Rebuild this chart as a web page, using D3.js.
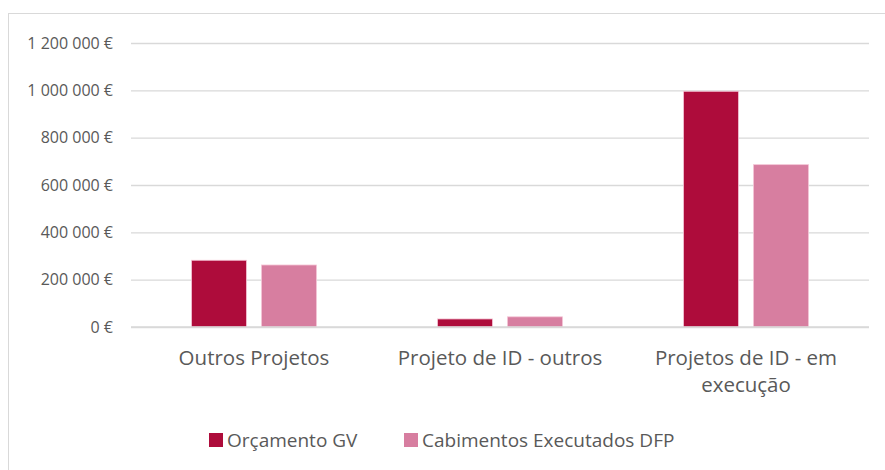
<!DOCTYPE html>
<html>
<head>
<meta charset="utf-8">
<script src="https://cdn.jsdelivr.net/npm/d3@7"></script>
<style>
  body { margin: 0; background: #fff; }
  svg { font-family: "Open Sans", "Noto Sans", sans-serif; }
</style>
</head>
<body>
<div class="chart"></div>
<script>
const categories = ['Outros Projetos', 'Projeto de ID - outros', 'Projetos de ID - em execução'];
const orcamento = [282000, 34000, 996000];
const cabimentos = [262000, 43000, 686000];
const seriesNames = ['Orçamento GV', 'Cabimentos Executados DFP'];
const colors = ['#ae0c3b', '#d77ea0'];
const yTicks = [0, 200000, 400000, 600000, 800000, 1000000, 1200000];

const width = 885, height = 470;
const plot = { left: 131, right: 869, top: 43, bottom: 327 };

const svg = d3.select('.chart')
    .append('svg')
        .attr('width', width)
        .attr('height', height);

// chart frame
svg.append('rect')
    .attr('x', 8.5)
    .attr('y', 13.5)
    .attr('width', 890)
    .attr('height', 470)
    .attr('fill', 'none')
    .attr('stroke', '#d9d9d9');

const x = d3.scaleBand()
    .domain(categories)
    .range([plot.left, plot.right]);

const x1 = d3.scaleBand()
    .domain(seriesNames)
    .range([0, 125])
    .paddingInner(15 / 70);

const y = d3.scaleLinear()
    .domain([0, 1200000])
    .range([plot.bottom, plot.top]);

const fmt = v => d3.format(',')(v).replace(/,/g, ' ') + ' €';

// gridlines + y labels
const yAxis = svg.append('g')
    .attr('transform', `translate(${plot.left},0)`)
    .call(d3.axisLeft(y).tickValues(yTicks).tickSize(-(plot.right - plot.left)).tickPadding(18).tickFormat(fmt));
yAxis.select('.domain').remove();
yAxis.selectAll('.tick line').attr('stroke', '#d9d9d9').attr('stroke-width', 1.3);
yAxis.selectAll('.tick text')
    .attr('fill', '#595959')
    .style('font-size', '16px')
    .style('font-family', '"Open Sans", sans-serif');

const data = categories.map((c, i) => ({ cat: c, vals: [orcamento[i], cabimentos[i]] }));

const group = svg.selectAll('g.cat')
    .data(data)
    .enter()
    .append('g')
        .attr('class', 'cat')
        .attr('transform', d => `translate(${x(d.cat) + (x.bandwidth() - 125) / 2},0)`);

group.selectAll('rect')
    .data(d => d.vals.map((v, j) => ({ v, s: seriesNames[j], j })))
    .enter()
    .append('rect')
        .attr('x', d => x1(d.s))
        .attr('y', d => y(d.v))
        .attr('width', x1.bandwidth())
        .attr('height', d => y(0) - y(d.v))
        .attr('fill', d => colors[d.j])
        .attr('stroke', '#f4c6d6')
        .attr('stroke-width', 0.8);

// x axis baseline
svg.append('line')
    .attr('x1', plot.left)
    .attr('x2', plot.right)
    .attr('y1', y(0))
    .attr('y2', y(0))
    .attr('stroke', '#d9d9d9')
    .attr('stroke-width', 1.3);

// category labels (wrapped like the original)
const catLines = {
    'Outros Projetos': ['Outros Projetos'],
    'Projeto de ID - outros': ['Projeto de ID - outros'],
    'Projetos de ID - em execução': ['Projetos de ID - em', 'execução']
};
svg.selectAll('text.cat')
    .data(categories)
    .enter()
    .append('text')
        .attr('class', 'cat')
        .attr('text-anchor', 'middle')
        .attr('fill', '#595959')
        .style('font-size', '20.5px')
        .each(function (c) {
            const t = d3.select(this);
            catLines[c].forEach((line, k) => {
                t.append('tspan')
                    .attr('x', x(c) + x.bandwidth() / 2)
                    .attr('y', 365 + k * 27)
                    .text(line);
            });
        });

// legend
const legendX = [209, 404];
const legend = svg.selectAll('g.legend')
    .data(seriesNames)
    .enter()
    .append('g')
        .attr('class', 'legend')
        .attr('transform', (d, i) => `translate(${legendX[i]},433)`);

legend.append('rect')
    .attr('width', 14)
    .attr('height', 14)
    .attr('fill', (d, i) => colors[i]);

legend.append('text')
    .attr('x', 18)
    .attr('y', 14)
    .attr('fill', '#595959')
    .style('font-size', '19px')
    .text(d => d);
</script>
</body>
</html>
